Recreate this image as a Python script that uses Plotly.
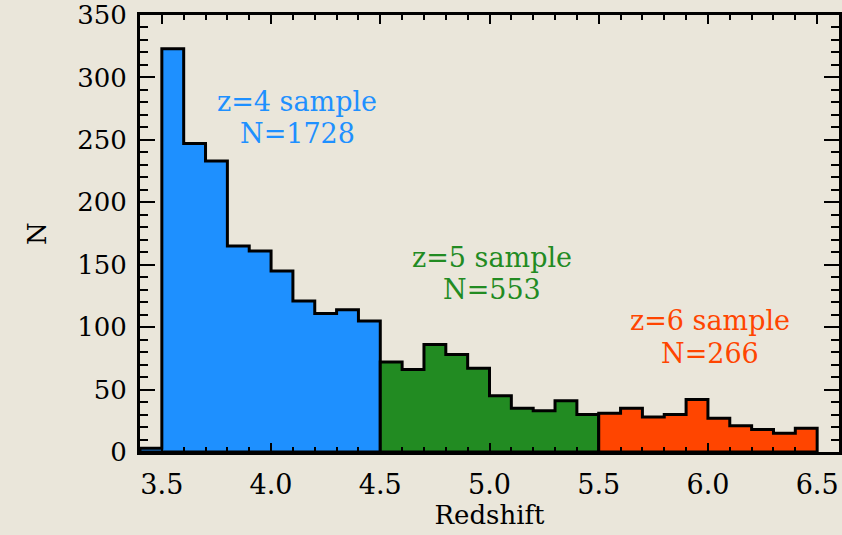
import plotly.graph_objects as go

# ---- data ----
bin_width = 0.1
z4_start = 3.4
z4_counts = [3, 323, 247, 233, 165, 161, 145, 121, 111, 114, 105]
z5_start = 4.5
z5_counts = [72, 66, 86, 78, 67, 45, 35, 33, 41, 30]
z6_start = 5.5
z6_counts = [31, 35, 28, 30, 42, 27, 21, 18, 15, 19]

labels = ["z=4 sample", "N=1728", "z=5 sample", "N=553", "z=6 sample", "N=266"]
label_x = [4.12, 4.12, 5.01, 5.01, 6.01, 6.01]
label_y = [281, 255, 156, 130, 105, 79]

colors = ["#1E90FF", "#228B22", "#FF4500"]
label_colors = ["#1E90FF", "#1E90FF", "#228B22", "#228B22", "#FF4500", "#FF4500"]

x_ticks = [3.5, 4.0, 4.5, 5.0, 5.5, 6.0, 6.5]
x_ticktext = ["3.5", "4.0", "4.5", "5.0", "5.5", "6.0", "6.5"]
y_ticks = [0, 50, 100, 150, 200, 250, 300, 350]

BG = "#EAE6DA"
FONT = "DejaVu Serif"

fig = go.Figure()


def step_polygon(start, counts):
    edges = [start + i * bin_width for i in range(len(counts) + 1)]
    xs = [edges[0]]
    ys = [0]
    for i, c in enumerate(counts):
        xs += [edges[i], edges[i + 1]]
        ys += [c, c]
    xs += [edges[-1], edges[0]]
    ys += [0, 0]
    return xs, ys


for (start, counts), col in zip([(z4_start, z4_counts), (z5_start, z5_counts), (z6_start, z6_counts)], colors):
    xs, ys = step_polygon(start, counts)
    fig.add_trace(go.Scatter(x=xs, y=ys, mode="lines", fill="toself", fillcolor=col,
                             line=dict(color="black", width=3), hoverinfo="skip",
                             showlegend=False))

for t, x, y, c in zip(labels, label_x, label_y, label_colors):
    fig.add_annotation(x=x, y=y, text=t, showarrow=False, xanchor="center", yanchor="middle",
                       font=dict(family=FONT, size=27, color=c))

axis_common = dict(showgrid=False, zeroline=False, showline=True, linecolor="black", linewidth=3,
                   mirror="ticks", ticks="inside", tickcolor="black", tickwidth=2,
                   ticklabeloverflow="allow")

fig.update_xaxes(range=[3.4, 6.6], tickvals=x_ticks, ticktext=x_ticktext, ticklen=9,
                 tickfont=dict(family=FONT, size=27, color="black"), ticklabelstandoff=7,
                 minor=dict(dtick=0.1, ticks="inside", ticklen=5, tickcolor="black", tickwidth=2),
                 title=dict(text="Redshift", font=dict(family=FONT, size=26, color="black"), standoff=5),
                 **axis_common)
fig.update_yaxes(range=[0, 350], tickvals=y_ticks, ticklen=15,
                 tickfont=dict(family=FONT, size=26, color="black"), ticklabelstandoff=5,
                 minor=dict(dtick=10, ticks="inside", ticklen=8, tickcolor="black", tickwidth=2),
                 title=dict(text="N", font=dict(family=FONT, size=26, color="black"), standoff=24),
                 **axis_common)

fig.update_layout(width=842, height=535, paper_bgcolor=BG, plot_bgcolor=BG,
                  margin=dict(l=140, r=0, t=13, b=83), showlegend=False)

fig.write_html("out.html")
